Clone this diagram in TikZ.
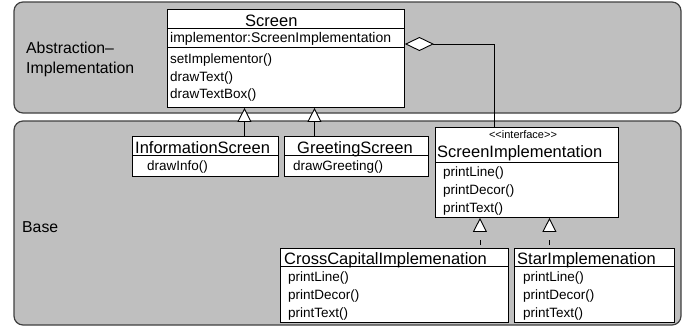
\documentclass[tikz,border=0pt]{standalone}
\usepackage{fontspec}
\setmainfont{Liberation Sans}
\usetikzlibrary{arrows.meta}
\begin{document}
\begin{tikzpicture}[x=1pt,y=-1pt,
  panel/.style={draw=black!75, fill=black!25, line width=1.2pt, rounded corners=9pt},
  cls/.style={draw=black, fill=white, line width=0.9pt, inner sep=0pt, anchor=north west},
  ttl/.style={font=\fontsize{16.5}{18}\selectfont, inner sep=0pt, anchor=base west},
  attr/.style={font=\fontsize{14}{16}\selectfont, inner sep=0pt, anchor=base west},
  meth/.style={font=\fontsize{13.5}{15}\selectfont, inner sep=0pt, anchor=base west},
  lbl/.style={font=\fontsize{15.8}{18}\selectfont, inner sep=0pt, anchor=base west},
  ster/.style={font=\fontsize{11}{12}\selectfont, inner sep=0pt, anchor=base},
  sepline/.style={line width=0.9pt},
  gen/.style={line width=0.9pt, -{Triangle[fill=white,length=14pt,width=14pt]}},
  real/.style={gen, dash pattern=on 0pt off 3pt on 5pt off 10pt},
  agg/.style={line width=0.9pt, -{Diamond[fill=white,length=29pt,width=14pt]}}
]
\useasboundingbox (0,0) rectangle (690,327);
% panels
\draw[panel] (14,2) rectangle (681,113);
\draw[panel] (14,121) rectangle (681,325);
\node[lbl] (labs) at (26,53) {Abstraction–};
\node[lbl] (limp) at (26,73) {Implementation};
\node[lbl] (lbase) at (22,232) {Base};
% Screen
\node[cls, minimum width=237pt, minimum height=98pt] (screen) at (167,9) {};
\draw[sepline] ([yshift=-19pt]screen.north west) -- ([yshift=-19pt]screen.north east);
\draw[sepline] ([yshift=-38pt]screen.north west) -- ([yshift=-38pt]screen.north east);
\node[ttl] (screent) at (245,26) {Screen};
\node[attr] (screena) at (170,42) {implementor:ScreenImplementation};
\node[meth] (screenm1) at (170,63) {setImplementor()};
\node[meth] (screenm2) at (170,81) {drawText()};
\node[meth] (screenm3) at (170,98) {drawTextBox()};
% InformationScreen
\node[cls, minimum width=146pt, minimum height=40pt] (info) at (132,136) {};
\draw[sepline] ([yshift=-19pt]info.north west) -- ([yshift=-19pt]info.north east);
\node[ttl] (infot) at (135,153) {InformationScreen};
\node[meth] (infom) at (147,170) {drawInfo()};
% GreetingScreen
\node[cls, minimum width=144pt, minimum height=40pt] (greet) at (284,136) {};
\draw[sepline] ([yshift=-19pt]greet.north west) -- ([yshift=-19pt]greet.north east);
\node[ttl] (greett) at (297,153) {GreetingScreen};
\node[meth] (greetm) at (293,170) {drawGreeting()};
% ScreenImplementation
\node[cls, minimum width=183pt, minimum height=90pt] (impl) at (435,127) {};
\draw[sepline] ([yshift=-35pt]impl.north west) -- ([yshift=-35pt]impl.north east);
\node[ster] (impls) at (523,138) {<{}<interface>{}>};
\node[ttl] (implt) at (437,157) {ScreenImplementation};
\node[meth] (implm1) at (443,176) {printLine()};
\node[meth] (implm2) at (443,194) {printDecor()};
\node[meth] (implm3) at (443,212) {printText()};
% CrossCapitalImplemenation
\node[cls, minimum width=228pt, minimum height=74pt] (cross) at (280,248) {};
\draw[sepline] ([yshift=-18pt]cross.north west) -- ([yshift=-18pt]cross.north east);
\node[ttl] (crosst) at (284,264) {CrossCapitalImplemenation};
\node[meth] (crossm1) at (288,281) {printLine()};
\node[meth] (crossm2) at (288,299) {printDecor()};
\node[meth] (crossm3) at (288,317) {printText()};
% StarImplemenation
\node[cls, minimum width=160pt, minimum height=74pt] (star) at (514,248) {};
\draw[sepline] ([yshift=-18pt]star.north west) -- ([yshift=-18pt]star.north east);
\node[ttl] (start) at (517,264) {StarImplemenation};
\node[meth] (starm1) at (523,281) {printLine()};
\node[meth] (starm2) at (523,299) {printDecor()};
\node[meth] (starm3) at (523,317) {printText()};
% connectors
\draw[gen] ([xshift=39pt]info.north) -- ([xshift=39pt]info.north |- screen.south);
\draw[gen] ([xshift=-42pt]greet.north) -- ([xshift=-42pt]greet.north |- screen.south);
\draw[real] ([xshift=85.5pt]cross.north) -- ([xshift=85.5pt]cross.north |- impl.south);
\draw[real] ([xshift=-45pt]star.north) -- ([xshift=-45pt]star.north |- impl.south);
\draw[agg] ([xshift=-33pt]impl.north) |- ([yshift=-35pt]screen.north east);
\end{tikzpicture}
\end{document}
